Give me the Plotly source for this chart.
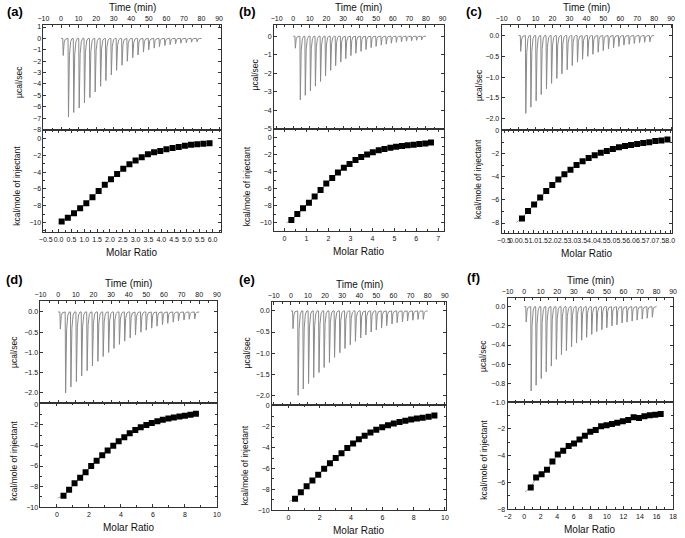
import plotly.graph_objects as go

W, H = 685, 538
FONT = "Arial, Liberation Sans, sans-serif"

# ---------------- data ----------------
inj_time = [1.0, 4.0, 7.0, 10.1, 13.1, 16.2, 19.2, 22.3, 25.3, 28.4, 31.4, 34.5, 37.5,
            40.6, 43.6, 46.7, 49.7, 52.8, 55.8, 58.9, 61.9, 65.0, 68.0, 71.1, 74.1, 77.2]

peaks_a = [-1.5, -6.9, -6.5, -6.1, -5.65, -5.2, -4.7, -4.2, -3.7, -3.2, -2.8, -2.35, -2.0,
           -1.7, -1.45, -1.2, -1.0, -0.85, -0.72, -0.62, -0.55, -0.48, -0.42, -0.38, -0.33, -0.3]
peaks_b = [-0.65, -3.45, -3.2, -2.95, -2.7, -2.45, -2.15, -1.85, -1.6, -1.4, -1.22, -1.05, -0.92,
           -0.82, -0.72, -0.62, -0.55, -0.48, -0.43, -0.38, -0.33, -0.3, -0.27, -0.25, -0.22, -0.2]
peaks_c = [-0.38, -1.87, -1.72, -1.57, -1.42, -1.28, -1.15, -1.03, -0.92, -0.82, -0.72, -0.64, -0.57,
           -0.5, -0.45, -0.4, -0.36, -0.32, -0.29, -0.26, -0.23, -0.21, -0.19, -0.17, -0.16, -0.15]
peaks_d = [-0.42, -2.0, -1.85, -1.72, -1.58, -1.45, -1.33, -1.22, -1.1, -1.0, -0.9, -0.8, -0.72,
           -0.64, -0.57, -0.5, -0.45, -0.4, -0.35, -0.31, -0.28, -0.25, -0.22, -0.2, -0.18, -0.17]
peaks_e = [-0.42, -2.0, -1.85, -1.72, -1.58, -1.46, -1.34, -1.22, -1.1, -0.99, -0.89, -0.8, -0.72,
           -0.64, -0.57, -0.5, -0.45, -0.4, -0.35, -0.31, -0.28, -0.26, -0.24, -0.22, -0.2, -0.2]
peaks_f = [-0.16, -0.88, -0.82, -0.75, -0.68, -0.62, -0.55, -0.5, -0.46, -0.42, -0.38, -0.35, -0.32,
           -0.29, -0.26, -0.24, -0.22, -0.2, -0.19, -0.17, -0.16, -0.15, -0.14, -0.13, -0.12, -0.11]

mr_a = [0.12, 0.36, 0.60, 0.84, 1.08, 1.32, 1.56, 1.80, 2.04, 2.28, 2.52, 2.76, 3.00,
        3.24, 3.48, 3.72, 3.96, 4.20, 4.44, 4.68, 4.92, 5.16, 5.40, 5.64, 5.88]
dh_a = [-9.9, -9.45, -8.9, -8.3, -7.7, -7.0, -6.25, -5.5, -4.85, -4.2, -3.6, -3.05, -2.6,
        -2.2, -1.85, -1.6, -1.45, -1.25, -1.1, -0.97, -0.85, -0.72, -0.65, -0.6, -0.55]
mr_b = [0.31, 0.58, 0.84, 1.11, 1.37, 1.64, 1.90, 2.17, 2.43, 2.70, 2.96, 3.23, 3.49,
        3.76, 4.02, 4.29, 4.55, 4.82, 5.08, 5.35, 5.61, 5.88, 6.14, 6.41, 6.67]
dh_b = [-9.65, -8.96, -8.3, -7.65, -6.9, -6.15, -5.4, -4.75, -4.1, -3.55, -3.1, -2.65, -2.3,
        -2.0, -1.73, -1.5, -1.35, -1.2, -1.08, -1.0, -0.92, -0.85, -0.77, -0.7, -0.58]
mr_c = [0.42, 0.73, 1.04, 1.35, 1.66, 1.97, 2.28, 2.59, 2.90, 3.21, 3.52, 3.83, 4.14,
        4.45, 4.76, 5.07, 5.38, 5.69, 6.00, 6.31, 6.62, 6.93, 7.24, 7.55, 7.86]
dh_c = [-7.6, -6.95, -6.4, -5.78, -5.22, -4.7, -4.22, -3.77, -3.38, -2.98, -2.65, -2.37, -2.12,
        -1.92, -1.75, -1.58, -1.44, -1.32, -1.24, -1.15, -1.07, -0.99, -0.9, -0.85, -0.76]
mr_d = [0.41, 0.76, 1.10, 1.45, 1.79, 2.14, 2.48, 2.83, 3.17, 3.52, 3.86, 4.21, 4.55,
        4.90, 5.24, 5.59, 5.93, 6.28, 6.62, 6.97, 7.31, 7.66, 8.00, 8.35, 8.69]
dh_d = [-8.88, -8.3, -7.67, -7.13, -6.6, -6.0, -5.5, -4.95, -4.5, -4.03, -3.6, -3.2, -2.82,
        -2.52, -2.25, -2.03, -1.83, -1.65, -1.52, -1.4, -1.3, -1.2, -1.12, -1.03, -0.93]
mr_e = [0.42, 0.79, 1.16, 1.53, 1.90, 2.28, 2.65, 3.02, 3.39, 3.76, 4.13, 4.50, 4.87,
        5.24, 5.61, 5.99, 6.36, 6.73, 7.10, 7.47, 7.84, 8.21, 8.58, 8.96, 9.33]
dh_e = [-8.9, -8.28, -7.7, -7.15, -6.6, -6.02, -5.5, -4.98, -4.53, -4.04, -3.6, -3.2, -2.85,
        -2.54, -2.27, -2.04, -1.85, -1.68, -1.54, -1.41, -1.3, -1.2, -1.12, -1.03, -0.92]
mr_f = [0.80, 1.45, 2.11, 2.76, 3.42, 4.07, 4.72, 5.38, 6.03, 6.69, 7.34, 7.99, 8.65,
        9.30, 9.96, 10.61, 11.26, 11.92, 12.57, 13.23, 13.88, 14.53, 15.19, 15.84, 16.50]
dh_f = [-6.38, -5.63, -5.38, -5.05, -4.43, -3.9, -3.63, -3.28, -3.08, -2.78, -2.5, -2.2, -2.08,
        -1.8, -1.73, -1.63, -1.53, -1.43, -1.33, -1.13, -1.18, -1.05, -0.98, -0.93, -0.88]

fit_start_x = [0.0, 0.08, 0.12, 0.05, 0.05, 0.1]
fit_start_y = [-10.15, -10.0, -7.95, -9.1, -9.15, -6.7]

panel_labels = ["(a)", "(b)", "(c)", "(d)", "(e)", "(f)"]
time_title = "Time (min)"
heat_title = "µcal/sec"
enth_title = "kcal/mole of injectant"
ratio_title = "Molar Ratio"

# ---------------- layout config (pixels) ----------------
panels = [
    dict(peaks=peaks_a, mr=mr_a, dh=dh_a, box=(38, 218, 22, 128, 232), lab=(9, 9),
         trange=[-10, 91], hrange=[-8, 1.2], hdt=1, hfmt="d",
         mrange=[-0.59, 6.32], mdt=0.5, mminor=0.25, mfmt=".1f", erange=[-11.2, 1.1],
         htitle=(13, 80), etitle=(11, 185)),
    dict(peaks=peaks_b, mr=mr_b, dh=dh_b, box=(272, 444, 22, 127, 231), lab=(245, 9),
         trange=[-11.6, 90.6], hrange=[-5, 0.62], hdt=1, hfmt="d",
         mrange=[-0.48, 7.24], mdt=1, mminor=0.5, mfmt="d", erange=[-11.0, 1.04],
         htitle=(253, 72), etitle=(245, 185)),
    dict(peaks=peaks_c, mr=mr_c, dh=dh_c, box=(503, 676, 22, 128, 233), lab=(475, 9),
         trange=[-10, 90.6], hrange=[-2.26, 0.26], hdt=0.5, hfmt=".1f",
         mrange=[-0.62, 8.1], mdt=0.5, mminor=0.25, mfmt=".1f", erange=[-8.9, 0.1],
         htitle=(480, 83), etitle=(479, 178)),
    dict(peaks=peaks_d, mr=mr_d, dh=dh_d, box=(35, 214, 301, 405, 510), lab=(9, 280),
         trange=[-10, 90], hrange=[-2.26, 0.28], hdt=0.5, hfmt=".1f",
         mrange=[-1.03, 10], mdt=2, mminor=1, mfmt="d", erange=[-10, 0.06],
         htitle=(8, 353), etitle=(8, 463)),
    dict(peaks=peaks_e, mr=mr_e, dh=dh_e, box=(270, 447, 302, 407, 513), lab=(245, 280),
         trange=[-11, 91], hrange=[-2.24, 0.22], hdt=0.5, hfmt=".1f",
         mrange=[-1.05, 10.1], mdt=2, mminor=1, mfmt="d", erange=[-10, 0.05],
         htitle=(245, 353), etitle=(242, 467)),
    dict(peaks=peaks_f, mr=mr_f, dh=dh_f, box=(509, 677, 298, 404, 512), lab=(474, 278),
         trange=[-10, 90], hrange=[-1.0, 0.094], hdt=0.2, hfmt=".1f",
         mrange=[-2, 18], mdt=2, mminor=1, mfmt="d", erange=[-8, -0.02],
         htitle=(484, 357), etitle=(485, 462)),
]


def px(x):
    return x / W


def py(y):
    return 1 - y / H


def thermogram(peaks):
    xs, ys = [0.0], [0.0]
    for t, p in zip(inj_time, peaks):
        xs += [t, t + 0.25, t + 0.8, t + 1.5, t + 2.3]
        ys += [0.0, p, p * 0.22, p * 0.04, 0.0]
    xs.append(80.0)
    ys.append(0.0)
    return xs, ys


fig = go.Figure()
layout = dict(width=W, height=H, margin=dict(l=0, r=0, t=0, b=0), autosize=False,
              paper_bgcolor="white", plot_bgcolor="white", showlegend=False,
              font=dict(family=FONT, color="black"))
annotations = []

LINE = "#333333"
TXT = "#111111"


def axis_style(**kw):
    d = dict(showline=True, linecolor=LINE, linewidth=1, mirror="allticks",
             ticks="inside", ticklen=3, tickwidth=1, tickcolor=LINE,
             showgrid=False, zeroline=False, tickangle=0,
             tickfont=dict(size=7, color=TXT, family=FONT))
    d.update(kw)
    return d


for i, p in enumerate(panels):
    nt, nb = 2 * i + 1, 2 * i + 2
    L, R, T, M, B = p["box"]
    xdom = [px(L), px(R)]
    xs, ys = thermogram(p["peaks"])
    tx = "x" if nt == 1 else f"x{nt}"
    ty = "y" if nt == 1 else f"y{nt}"
    bx, by = f"x{nb}", f"y{nb}"
    fig.add_trace(go.Scatter(x=xs, y=ys, mode="lines", xaxis=tx, yaxis=ty,
                             line=dict(color="#8a8a8a", width=1), hoverinfo="skip"))
    fig.add_trace(go.Scatter(x=[fit_start_x[i]] + p["mr"], y=[fit_start_y[i]] + p["dh"],
                             mode="lines", xaxis=bx, yaxis=by,
                             line=dict(color="#aaaaaa", width=1), hoverinfo="skip"))
    fig.add_trace(go.Scatter(x=p["mr"], y=p["dh"], mode="markers", xaxis=bx, yaxis=by,
                             marker=dict(symbol="square", size=6, color="black")))

    xk_t = "xaxis" if nt == 1 else f"xaxis{nt}"
    yk_t = "yaxis" if nt == 1 else f"yaxis{nt}"
    layout[xk_t] = axis_style(domain=xdom, anchor=ty, side="top", range=p["trange"],
                              dtick=10, tick0=0,
                              minor=dict(ticks="inside", ticklen=2, dtick=5, tick0=0, tickcolor=LINE))
    layout[yk_t] = axis_style(domain=[py(M), py(T)], anchor=tx, range=p["hrange"],
                              dtick=p["hdt"], tick0=0, tickformat=p["hfmt"])
    layout[f"xaxis{nb}"] = axis_style(domain=xdom, anchor=by, range=p["mrange"],
                                      dtick=p["mdt"], tick0=0, tickformat=p["mfmt"],
                                      minor=dict(ticks="inside", ticklen=2, dtick=p["mminor"],
                                                 tick0=0, tickcolor=LINE))
    layout[f"yaxis{nb}"] = axis_style(domain=[py(B), py(M)], anchor=bx, range=p["erange"],
                                      dtick=2, tick0=0,
                                      minor=dict(ticks="inside", ticklen=2, dtick=1, tick0=0,
                                                 tickcolor=LINE))

    cx = (L + R) / 2
    annotations.append(dict(text="<b>" + panel_labels[i] + "</b>", x=px(p["lab"][0]),
                            y=py(p["lab"][1]), xref="paper", yref="paper", showarrow=False,
                            font=dict(size=13, color="black", family=FONT),
                            xanchor="center", yanchor="middle"))
    annotations.append(dict(text=time_title, x=px(cx), y=py(T - 17), xref="paper", yref="paper",
                            showarrow=False, font=dict(size=10, color=TXT, family=FONT),
                            xanchor="center", yanchor="middle"))
    annotations.append(dict(text=ratio_title, x=px(cx), y=py(B + 20), xref="paper", yref="paper",
                            showarrow=False, font=dict(size=10, color=TXT, family=FONT),
                            xanchor="center", yanchor="middle"))
    annotations.append(dict(text=heat_title, x=px(p["htitle"][0]), y=py(p["htitle"][1]),
                            xref="paper", yref="paper", showarrow=False, textangle=-90,
                            font=dict(size=8.5, color=TXT, family=FONT),
                            xanchor="center", yanchor="middle"))
    annotations.append(dict(text=enth_title, x=px(p["etitle"][0]), y=py(p["etitle"][1]),
                            xref="paper", yref="paper", showarrow=False, textangle=-90,
                            font=dict(size=8.5, color=TXT, family=FONT),
                            xanchor="center", yanchor="middle"))

layout["annotations"] = annotations
fig.update_layout(**layout)
fig.write_html("out.html", config={"displayModeBar": False},
               post_script="document.body.style.margin='0';document.body.style.padding='0';"
                           "document.body.style.overflow='hidden';")
